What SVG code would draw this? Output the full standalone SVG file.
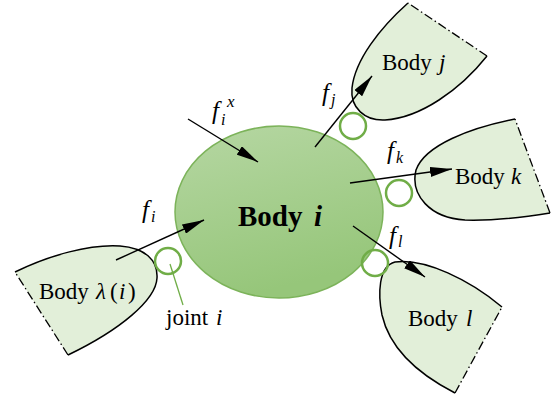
<svg xmlns="http://www.w3.org/2000/svg" width="551" height="396" viewBox="0 0 551 396">
<style>
.body{fill:#e2efd9;stroke:none}
.edge{fill:none;stroke:#000;stroke-width:1.5}
.cut{fill:none;stroke:#000;stroke-width:1.3;stroke-dasharray:9,3,1.5,3}
.joint{fill:none;stroke:#70ad47;stroke-width:2.5}
.arrow{fill:none;stroke:#000;stroke-width:1.4;marker-end:url(#ah)}
</style>
<defs>
<marker id="ah" markerUnits="userSpaceOnUse" viewBox="0 0 22 10" refX="22" refY="5" markerWidth="22" markerHeight="10" orient="auto">
<path d="M0,0 L22,5 L0,10 z" fill="#000"/>
</marker>
<linearGradient id="eg" x1="0" y1="0" x2="0.3" y2="1">
<stop offset="0" stop-color="#b6d7a3"/>
<stop offset="1" stop-color="#96c67a"/>
</linearGradient>
</defs>

<g font-family="'Liberation Serif', serif" fill="#000">

<g id="body-lambda">
<path class="body" d="M15,272 C50,255 90,244 120,246 C145,248 158,260 157,278 C156,300 120,330 68,355 Z"/>
<path class="edge" d="M15,272 C50,255 90,244 120,246 C145,248 158,260 157,278 C156,300 120,330 68,355"/>
<path class="cut" d="M68,355 L15,272"/>
<text x="39" y="299" font-size="23">Body<tspan x="96" font-style="italic">λ</tspan><tspan x="110">(</tspan><tspan x="119" font-style="italic">i</tspan><tspan x="128">)</tspan></text>
</g>

<g id="body-j">
<path class="body" d="M408,3 C380,28 355,60 352,88 C350,108 365,121 385,120 C420,118 460,90 487,56 Z"/>
<path class="edge" d="M408,3 C380,28 355,60 352,88 C350,108 365,121 385,120 C420,118 460,90 487,56"/>
<path class="cut" d="M487,56 L408,3"/>
<text x="382" y="70" font-size="23">Body<tspan x="439" font-style="italic">j</tspan></text>
</g>

<g id="body-k">
<path class="body" d="M515,119 C470,128 425,145 416,170 C410,195 430,218 465,220 C495,221 525,217 550,213 Z"/>
<path class="edge" d="M515,119 C470,128 425,145 416,170 C410,195 430,218 465,220 C495,221 525,217 550,213"/>
<path class="cut" d="M550,213 L515,119"/>
<text x="455" y="184" font-size="23">Body<tspan x="511" font-style="italic">k</tspan></text>
</g>

<g id="body-l">
<path class="body" d="M502,307 C470,280 425,258 395,262 C378,266 378,295 382,315 C390,350 420,375 455,393 Z"/>
<path class="edge" d="M502,307 C470,280 425,258 395,262 C378,266 378,295 382,315 C390,350 420,375 455,393"/>
<path class="cut" d="M455,393 L502,307"/>
<text x="408" y="326" font-size="23">Body<tspan x="466" font-style="italic">l</tspan></text>
</g>

<g id="body-i">
<ellipse cx="279" cy="212" rx="104" ry="86" fill="url(#eg)" stroke="#7cb35a" stroke-width="1.5"/>
<text x="238" y="226" font-weight="bold" font-size="29">Body<tspan x="314" font-style="italic">i</tspan></text>
</g>

<g id="joints">
<circle class="joint" cx="168" cy="261" r="13"/>
<circle class="joint" cx="353" cy="126" r="13"/>
<circle class="joint" cx="399" cy="193" r="13"/>
<circle class="joint" cx="375" cy="263" r="13"/>
<line x1="170" y1="264" x2="183" y2="305" stroke="#70ad47" stroke-width="1.3"/>
<text x="166" y="325" font-size="23">joint<tspan x="216" font-style="italic">i</tspan></text>
</g>

<g id="connectors">
<line class="arrow" x1="116" y1="260" x2="204" y2="220"/>
<line class="arrow" x1="188" y1="119" x2="258" y2="162"/>
<line class="arrow" x1="315" y1="147" x2="372" y2="76"/>
<line class="arrow" x1="350" y1="183" x2="452" y2="169"/>
<line class="arrow" x1="353" y1="226" x2="425" y2="277"/>
</g>

<g id="labels" font-style="italic">
<text x="142" y="218" font-size="25">f</text><text x="151" y="222" font-size="16">i</text>
<text x="212" y="119" font-size="25">f</text><text x="221" y="125" font-size="16">i</text><text x="227" y="107" font-size="17">x</text>
<text x="322" y="101" font-size="25">f</text><text x="331" y="105" font-size="16">j</text>
<text x="387" y="159" font-size="25">f</text><text x="396" y="163" font-size="16">k</text>
<text x="389" y="244" font-size="25">f</text><text x="398" y="247" font-size="16">l</text>
</g>

</g>
</svg>
